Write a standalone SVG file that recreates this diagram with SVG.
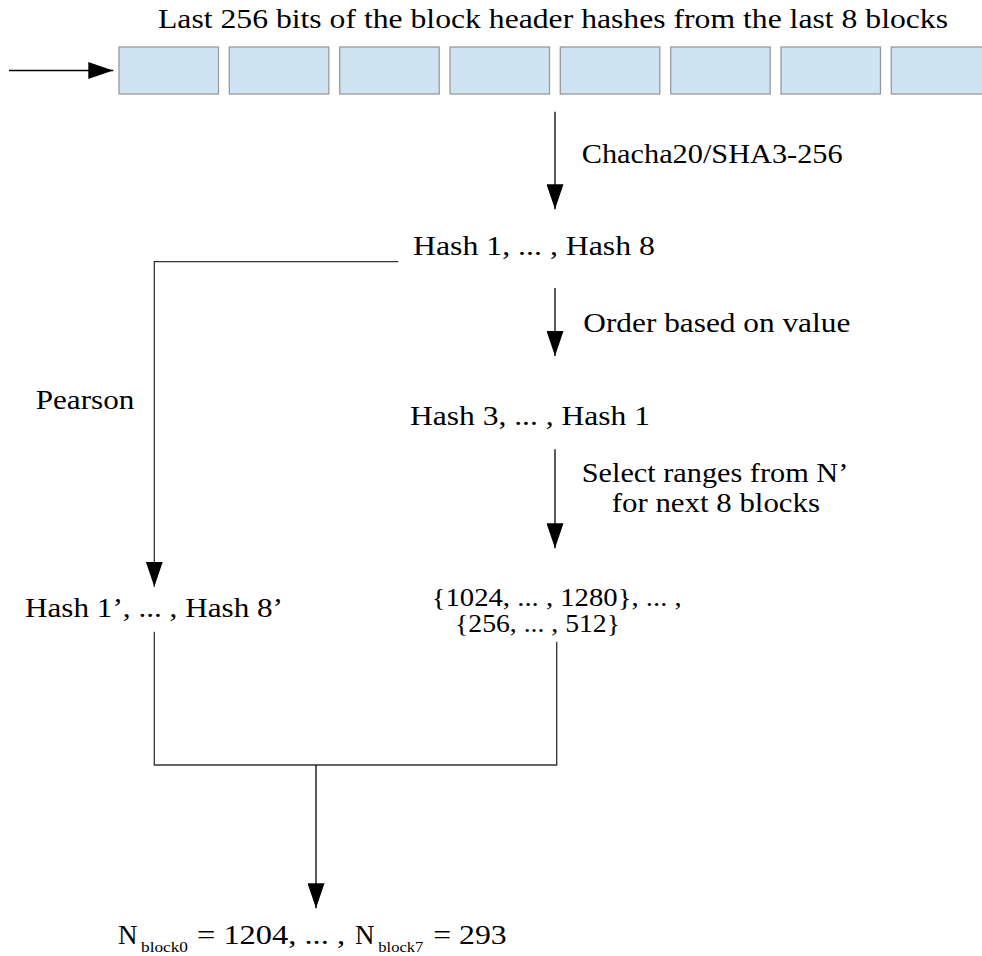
<svg xmlns="http://www.w3.org/2000/svg" width="982" height="956" viewBox="0 0 982 956">
<style>
text{font-family:"Liberation Serif","DejaVu Serif","Times New Roman",serif;font-size:27px;fill:#000}
.sub{font-size:14px}
.rg{font-size:25px}
.blk{fill:#cfe4f2;stroke:#9a9a9a;stroke-width:1.3}
.ln{fill:none;stroke:#000;stroke-width:1.3}
.ln2{fill:none;stroke:#333;stroke-width:1.3}
</style>
<defs>
<marker id="ah" markerUnits="userSpaceOnUse" markerWidth="25" markerHeight="17" refX="25" refY="8.5" orient="auto">
<path d="M0,0 L25,8.5 L0,17 Z" fill="#000"/>
</marker>
</defs>
<rect width="982" height="956" fill="#fff"/>
<g id="title"><text x="158" y="28" textLength="790" lengthAdjust="spacingAndGlyphs">Last 256 bits of the block header hashes from the last 8 blocks</text></g>
<g id="blocks">
<rect class="blk" x="119" y="47" width="99.5" height="47"/>
<rect class="blk" x="229.3" y="47" width="99.5" height="47"/>
<rect class="blk" x="339.7" y="47" width="99.5" height="47"/>
<rect class="blk" x="450" y="47" width="99.5" height="47"/>
<rect class="blk" x="560.3" y="47" width="99.5" height="47"/>
<rect class="blk" x="670.7" y="47" width="99.5" height="47"/>
<rect class="blk" x="781" y="47" width="99.5" height="47"/>
<rect class="blk" x="891.3" y="47" width="99.5" height="47"/>
</g>
<g id="hash18"><text x="413" y="255" textLength="242" lengthAdjust="spacingAndGlyphs">Hash 1, ... , Hash 8</text></g>
<g id="hash31"><text x="410" y="425" textLength="240" lengthAdjust="spacingAndGlyphs">Hash 3, ... , Hash 1</text></g>
<g id="ranges">
<text class="rg" x="431.7" y="605.5" textLength="250" lengthAdjust="spacingAndGlyphs">{1024, ... , 1280}, ... ,</text>
<text class="rg" x="455" y="631.5" textLength="165" lengthAdjust="spacingAndGlyphs">{256, ... , 512}</text>
</g>
<g id="hashprime"><text x="25" y="616.7" textLength="258" lengthAdjust="spacingAndGlyphs">Hash 1’, ... , Hash 8’</text></g>
<g id="result">
<text x="118" y="944">N</text>
<text class="sub" x="141" y="952" textLength="47" lengthAdjust="spacingAndGlyphs">block0</text>
<text x="197" y="944" textLength="148" lengthAdjust="spacingAndGlyphs">= 1204, ... ,</text>
<text x="355" y="944">N</text>
<text class="sub" x="378.3" y="952" textLength="45" lengthAdjust="spacingAndGlyphs">block7</text>
<text x="433.3" y="944" textLength="73.4" lengthAdjust="spacingAndGlyphs">= 293</text>
</g>
<g id="connectors">
<line class="ln" x1="9" y1="70.5" x2="113.3" y2="70.5" marker-end="url(#ah)"/>
<line class="ln" x1="555" y1="111.7" x2="555" y2="209.3" marker-end="url(#ah)"/>
<text x="581.7" y="162.7" textLength="261" lengthAdjust="spacingAndGlyphs">Chacha20/SHA3-256</text>
<line class="ln" x1="555" y1="288" x2="555" y2="356" marker-end="url(#ah)"/>
<text x="583.3" y="331.7" textLength="267" lengthAdjust="spacingAndGlyphs">Order based on value</text>
<line class="ln" x1="555" y1="449.3" x2="555" y2="548.3" marker-end="url(#ah)"/>
<text x="581.7" y="482.3" textLength="266.6" lengthAdjust="spacingAndGlyphs">Select ranges from N’</text>
<text x="611.7" y="511.7" textLength="208.3" lengthAdjust="spacingAndGlyphs">for next 8 blocks</text>
<polyline class="ln2" points="398.3,261.7 154.3,261.7 154.3,586.7" marker-end="url(#ah)"/>
<text x="35.7" y="409.3" textLength="98.6" lengthAdjust="spacingAndGlyphs">Pearson</text>
<polyline class="ln2" points="154.3,631.7 154.3,765 556.7,765 556.7,641.7"/>
<line class="ln" x1="316" y1="765" x2="316" y2="908.3" marker-end="url(#ah)"/>
</g>
</svg>
